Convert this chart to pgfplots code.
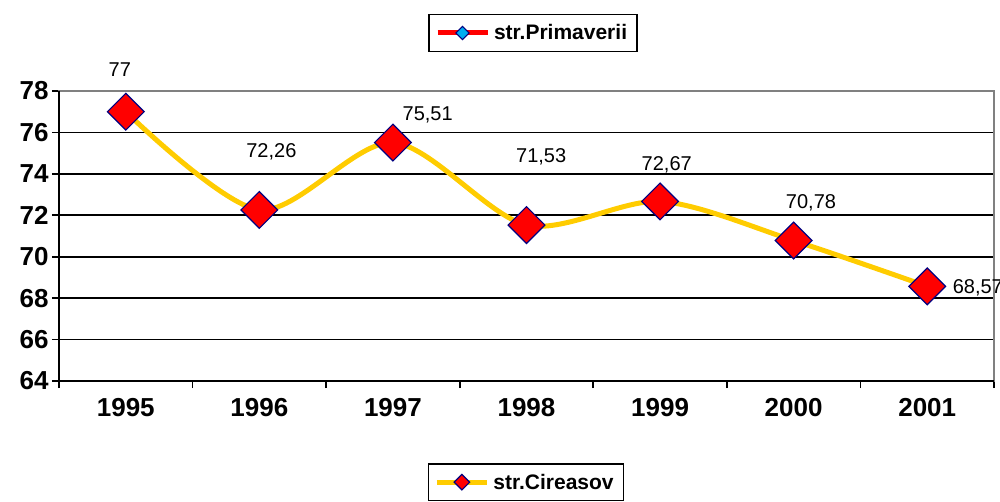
\documentclass[border=0pt]{standalone}
\usepackage{fontspec}
\setmainfont{Liberation Sans}
\usepackage{pgfplots}
\pgfplotsset{compat=1.18}
\definecolor{gold}{HTML}{FFCC00}
\definecolor{navyb}{HTML}{000080}
\begin{document}
\begin{tikzpicture}
\begin{axis}[name=a, width=935pt, height=290pt, scale only axis,
  xmin=-0.5, xmax=6.5, ymin=64, ymax=78,
  ytick={64,66,...,78}, ymajorgrids, grid style={black, line width=1.8pt},
  xtick={-0.5,0.5,...,6.5}, xticklabels={},
  extra x ticks={0,1,2,3,4,5,6},
  extra x tick labels={1995,1996,1997,1998,1999,2000,2001},
  extra x tick style={major tick length=0pt, tick label style={yshift=-14pt}},
  tick align=outside, major tick length=7pt, tick pos=left,
  tick style={black, line width=1.6pt},
  axis line style={draw=gray, line width=1.5pt},
  ticklabel style={font=\fontsize{26}{30}\selectfont\bfseries},
  /pgf/number format/assume math mode=true,
  clip=false,
  legend style={at={(0.4995,-0.283)}, anchor=north, draw=black, line width=1.5pt,
    font=\fontsize{21}{25}\selectfont\bfseries, inner xsep=6pt, inner ysep=6pt,
    nodes={inner sep=4pt}},
  legend image code/.code={\draw[mark repeat=2, mark phase=2, #1] plot coordinates {(0pt,0pt) (25pt,0pt) (50pt,0pt)};},
  legend image post style={mark size=5.5pt},
]
\addplot[gold, line width=5pt, smooth, mark=square*, mark size=13pt,
  mark options={rotate=45, fill=red, draw=navyb, line width=1.2pt, solid}]
  coordinates {(0,77) (1,72.26) (2,75.51) (3,71.53) (4,72.67) (5,70.78) (6,68.57)};
\addlegendentry{str.Cireasov}
\begin{scope}[every node/.style={font=\fontsize{20}{24}\selectfont, inner sep=0pt}]
\node[anchor=base] at (axis cs:-0.045,78.68) {77};
\node[anchor=base] at (axis cs:1.09,74.81) {72,26};
\node[anchor=base] at (axis cs:2.26,76.60) {75,51};
\node[anchor=base] at (axis cs:3.11,74.57) {71,53};
\node[anchor=base] at (axis cs:4.05,74.14) {72,67};
\node[anchor=base] at (axis cs:5.13,72.35) {70,78};
\node[anchor=base west, overlay] at (axis cs:6.19,68.24) {68,57};
\end{scope}
\end{axis}
\begin{axis}[width=935pt, height=290pt, scale only axis, hide axis,
  xmin=0, xmax=1, ymin=0, ymax=1,
  legend style={at={(0.507,1.2)}, anchor=center, draw=black, line width=1.5pt,
    font=\fontsize{21}{25}\selectfont\bfseries, inner xsep=6pt, inner ysep=6pt,
    nodes={inner sep=4pt}},
  legend image code/.code={\draw[mark repeat=2, mark phase=2, #1] plot coordinates {(0pt,0pt) (25pt,0pt) (50pt,0pt)};},
]
\addlegendimage{red, line width=5pt, mark=square*, mark size=4.7pt,
  mark options={rotate=45, fill=cyan, draw=navyb, line width=1pt, solid}}
\addlegendentry{str.Primaverii}
\end{axis}
\draw[black, line width=2pt] (a.north west) -- (a.south west) -- (a.south east);
\pgfresetboundingbox
\path[use as bounding box] (a.south west) ++(-59pt,-120pt) rectangle ++(1000pt,501pt);
\end{tikzpicture}
\end{document}
